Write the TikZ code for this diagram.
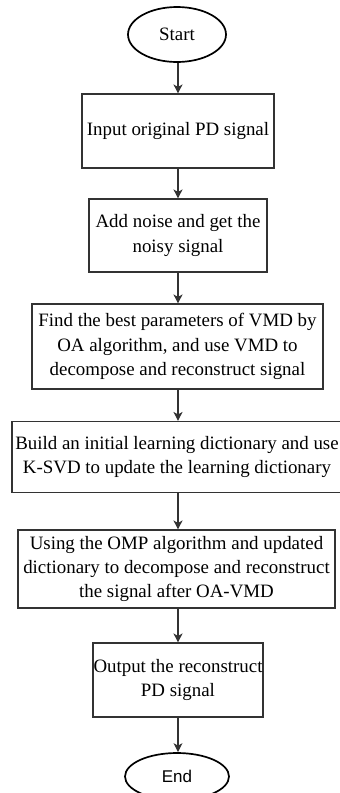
\documentclass[tikz,border=0pt]{standalone}
\usepackage{fontspec}
\setmainfont{Liberation Serif}
\newfontfamily\endfont{Liberation Sans}
\usetikzlibrary{shapes.geometric,arrows.meta}
\begin{document}
\begin{tikzpicture}[x=1pt,y=-1pt,
  procbox/.style={draw=black!80,line width=1.1pt,rectangle,align=center,inner sep=0pt,
    font=\fontsize{18.9}{24.3}\selectfont},
  term/.style={draw=black,line width=1.7pt,ellipse,inner sep=0pt,font=\fontsize{18.9}{22}\selectfont},
  flow/.style={draw=black!80,line width=1.1pt,-{Stealth[length=9pt,width=9pt,inset=2.5pt]}}]
\useasboundingbox (0,0) rectangle (340,793);
\node[term,minimum width=98pt,minimum height=55pt] (start) at (177,34.5) {Start};
\node[procbox,minimum width=192pt,minimum height=74pt] (b1) at (178,131) {Input original PD signal};
\node[procbox,minimum width=178pt,minimum height=73pt] (b2) at (178,235.5) {Add noise and get the\\noisy signal};
\node[procbox,minimum width=291pt,minimum height=85pt] (b3) at (177.5,346.5) {Find the best parameters of VMD by\\OA algorithm, and use VMD to\\decompose and reconstruct signal};
\node[procbox,minimum width=330pt,minimum height=71pt] (b4) at (177,457) {Build an initial learning dictionary and use\\K-SVD to update the learning dictionary};
\node[procbox,minimum width=317pt,minimum height=78pt] (b5) at (176.5,569) {Using the OMP algorithm and updated\\dictionary to decompose and reconstruct\\the signal after OA-VMD};
\node[procbox,minimum width=170pt,minimum height=74pt] (b6) at (178,680) {Output the reconstruct\\PD signal};
\node[term,minimum width=104pt,minimum height=47pt,font=\endfont\fontsize{17}{20}\selectfont] (end) at (177,776.5) {End};
\coordinate (ax) at (178,0);
\draw[flow] (ax |- start.south) -- (ax |- b1.north);
\draw[flow] (ax |- b1.south) -- (ax |- b2.north);
\draw[flow] (ax |- b2.south) -- (ax |- b3.north);
\draw[flow] (ax |- b3.south) -- (ax |- b4.north);
\draw[flow] (ax |- b4.south) -- (ax |- b5.north);
\draw[flow] (ax |- b5.south) -- (ax |- b6.north);
\draw[flow] (ax |- b6.south) -- (ax |- end.north);
\end{tikzpicture}
\end{document}
